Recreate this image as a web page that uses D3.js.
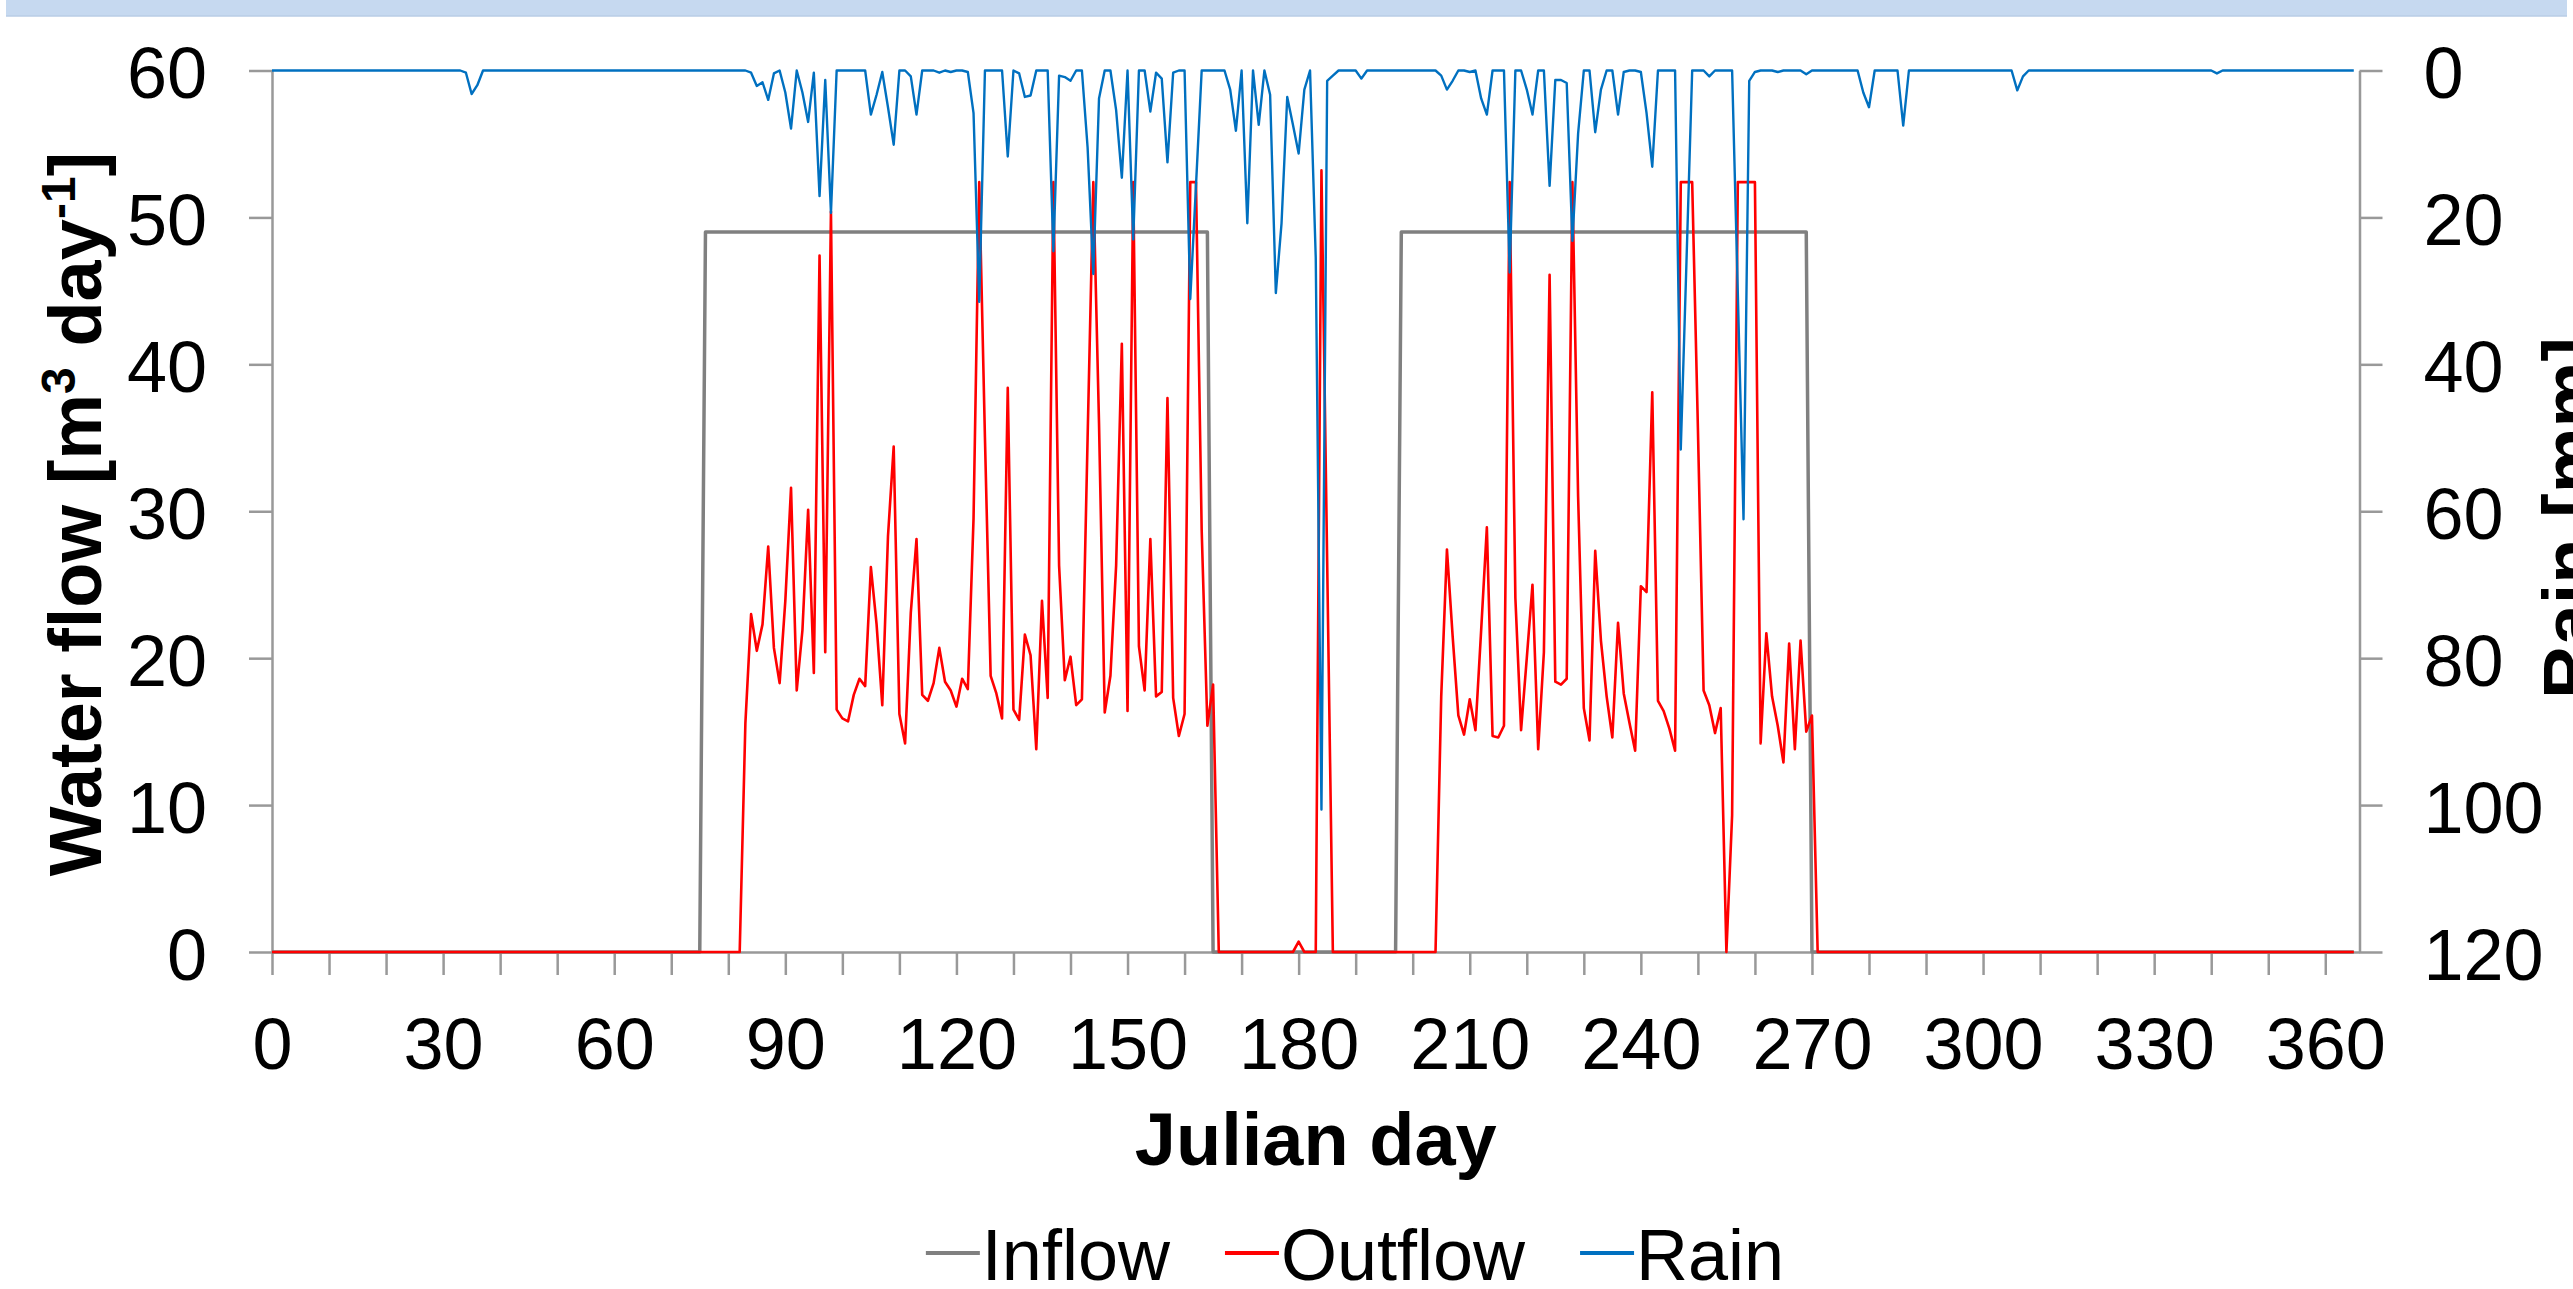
<!DOCTYPE html>
<html>
<head>
<meta charset="utf-8">
<title>Water flow and rain</title>
<script src="https://cdnjs.cloudflare.com/ajax/libs/d3/7.8.5/d3.min.js"></script>
<style>
  body { margin: 0; background: #fff; }
  svg text { font-family: "Liberation Sans", Arial, sans-serif; fill: #000; }
</style>
</head>
<body>
<div id="chart"></div>
<script>
// daily values, julian day 0..365 (index = day)
var inflow = [
  0,0,0,0,0,0,0,0,0,0,0,0,0,0,0,0,0,0,0,0,
  0,0,0,0,0,0,0,0,0,0,0,0,0,0,0,0,0,0,0,0,
  0,0,0,0,0,0,0,0,0,0,0,0,0,0,0,0,0,0,0,0,
  0,0,0,0,0,0,0,0,0,0,0,0,0,0,0,0,49,49,49,49,
  49,49,49,49,49,49,49,49,49,49,49,49,49,49,49,49,49,49,49,49,
  49,49,49,49,49,49,49,49,49,49,49,49,49,49,49,49,49,49,49,49,
  49,49,49,49,49,49,49,49,49,49,49,49,49,49,49,49,49,49,49,49,
  49,49,49,49,49,49,49,49,49,49,49,49,49,49,49,49,49,49,49,49,
  49,49,49,49,49,0,0,0,0,0,0,0,0,0,0,0,0,0,0,0,
  0,0,0,0,0,0,0,0,0,0,0,0,0,0,0,0,0,0,49,49,
  49,49,49,49,49,49,49,49,49,49,49,49,49,49,49,49,49,49,49,49,
  49,49,49,49,49,49,49,49,49,49,49,49,49,49,49,49,49,49,49,49,
  49,49,49,49,49,49,49,49,49,49,49,49,49,49,49,49,49,49,49,49,
  49,49,49,49,49,49,49,49,49,49,0,0,0,0,0,0,0,0,0,0,
  0,0,0,0,0,0,0,0,0,0,0,0,0,0,0,0,0,0,0,0,
  0,0,0,0,0,0,0,0,0,0,0,0,0,0,0,0,0,0,0,0,
  0,0,0,0,0,0,0,0,0,0,0,0,0,0,0,0,0,0,0,0,
  0,0,0,0,0,0,0,0,0,0,0,0,0,0,0,0,0,0,0,0,
  0,0,0,0,0,0
];

var outflow = [
  0,0,0,0,0,0,0,0,0,0,0,0,0,0,0,0,0,0,0,0,
  0,0,0,0,0,0,0,0,0,0,0,0,0,0,0,0,0,0,0,0,
  0,0,0,0,0,0,0,0,0,0,0,0,0,0,0,0,0,0,0,0,
  0,0,0,0,0,0,0,0,0,0,0,0,0,0,0,0,0,0,0,0,
  0,0,0,15.6,23.0,20.5,22.3,27.6,20.7,18.3,23.9,31.6,17.8,21.9,30.1,19.0,47.4,20.4,50.4,16.5,
  15.9,15.7,17.5,18.6,18.1,26.2,22.3,16.8,28.3,34.4,16.2,14.2,23.1,28.1,17.5,17.1,18.3,20.7,18.4,17.8,
  16.7,18.6,17.9,29.5,52.4,35.0,18.8,17.6,15.9,38.4,16.5,15.8,21.6,20.2,13.8,23.9,17.3,52.4,26.3,18.5,
  20.1,16.8,17.2,35.0,52.4,36.0,16.3,18.8,26.3,41.4,16.4,52.4,20.8,17.8,28.1,17.4,17.7,37.7,17.3,14.7,
  16.2,52.4,52.4,28.7,15.4,18.2,0,0,0,0,0,0,0,0,0,0,0,0,0,0,
  0.7,0,0,0,53.2,26.6,0,0,0,0,0,0,0,0,0,0,0,0,0,0,
  0,0,0,0,0,17.4,27.4,21.5,16.1,14.8,17.2,15.1,21.9,28.9,14.7,14.6,15.4,52.4,24.1,15.1,
  20.0,25.0,13.8,20.4,46.1,18.4,18.2,18.6,52.4,31.0,16.6,14.4,27.3,21.2,17.4,14.6,22.4,17.6,15.6,13.7,
  24.9,24.5,38.1,17.1,16.4,15.2,13.7,52.4,52.4,52.4,35.7,17.8,16.8,14.9,16.6,0,9.3,52.4,52.4,52.4,
  52.4,14.2,21.7,17.4,15.4,12.9,21.0,13.8,21.2,15.0,16.1,0,0,0,0,0,0,0,0,0,
  0,0,0,0,0,0,0,0,0,0,0,0,0,0,0,0,0,0,0,0,
  0,0,0,0,0,0,0,0,0,0,0,0,0,0,0,0,0,0,0,0,
  0,0,0,0,0,0,0,0,0,0,0,0,0,0,0,0,0,0,0,0,
  0,0,0,0,0,0,0,0,0,0,0,0,0,0,0,0,0,0,0,0,
  0,0,0,0,0,0
];

var rain = [
  0,0,0,0,0,0,0,0,0,0,0,0,0,0,0,0,0,0,0,0,
  0,0,0,0,0,0,0,0,0,0,0,0,0,0,0.3,3.2,2.0,0,0,0,
  0,0,0,0,0,0,0,0,0,0,0,0,0,0,0,0,0,0,0,0,
  0,0,0,0,0,0,0,0,0,0,0,0,0,0,0,0,0,0,0,0,
  0,0,0,0,0.3,2.1,1.6,4.0,0.4,0,3.0,7.9,0,3.0,7.0,0.3,17.1,1.3,19.4,0,
  0,0,0,0,0,6.0,3.3,0.2,5.0,10.1,0,0,0.8,6.0,0,0,0,0.3,0,0.2,
  0,0,0.2,5.8,31.5,0,0,0,0,11.7,0,0.4,3.6,3.4,0,0,0,24.6,0.7,0.9,
  1.4,0,0,10.5,27.7,3.8,0,0,5.4,14.6,0,23.0,0,0,5.6,0.3,1.1,12.5,0.3,0,
  0,31.1,15.7,0,0,0,0,0,2.6,8.2,0,20.8,0,7.4,0,3.3,30.3,20.8,3.6,7.4,
  11.3,2.6,0,25.5,100.6,1.4,0.7,0,0,0,0,1.1,0,0,0,0,0,0,0,0,
  0,0,0,0,0,0.7,2.6,1.4,0,0,0.2,0,3.8,6.0,0,0,0,27.5,0,0,
  2.6,6.0,0,0,15.7,1.3,1.3,1.7,23.2,8.6,0,0,8.4,2.6,0,0,6.0,0.2,0,0,
  0.2,5.8,13.1,0,0,0,0,51.6,26.0,0,0,0,0.8,0,0,0,0,30.3,61.1,1.4,
  0.2,0,0,0,0.2,0,0,0,0,0.5,0,0,0,0,0,0,0,0,0,3.0,
  5.0,0,0,0,0,0,7.5,0,0,0,0,0,0,0,0,0,0,0,0,0,
  0,0,0,0,0,0,2.7,0.8,0,0,0,0,0,0,0,0,0,0,0,0,
  0,0,0,0,0,0,0,0,0,0,0,0,0,0,0,0,0,0,0,0,
  0,0.4,0,0,0,0,0,0,0,0,0,0,0,0,0,0,0,0,0,0,
  0,0,0,0,0,0
];

var dayTicks = [0,10,20,30,40,50,60,70,80,90,100,110,120,130,140,150,160,170,180,
  190,200,210,220,230,240,250,260,270,280,290,300,310,320,330,340,350,360];
var dayLabels = [0,30,60,90,120,150,180,210,240,270,300,330,360];
var flowTicks = [0,10,20,30,40,50,60];
var rainTicks = [0,20,40,60,80,100,120];

var seriesNames = ["Inflow", "Outflow", "Rain"];
var seriesColors = ["#808080", "#ff0000", "#0070c0"];

var W = 2573, H = 1289;
var plotLeft = 272, plotRight = 2359.5, plotTop = 70.5, plotBottom = 952;
var fontSize = 72;
var titleSize = 74;
var axisColor = "#999999";

var svg = d3.select("#chart").append("svg")
    .attr("width", W)
    .attr("height", H);

// light band at the top (edge of a title box above)
svg.append("rect")
    .attr("x", 6).attr("y", 0)
    .attr("width", W - 12).attr("height", 16)
    .attr("fill", "#c6d9f0");
svg.append("line")
    .attr("x1", 6).attr("x2", W - 6)
    .attr("y1", 16).attr("y2", 16)
    .attr("stroke", "#b9cde6").attr("stroke-width", 1.5);

var x = d3.scaleLinear().domain([0, 366]).range([plotLeft, plotRight]);
var yFlow = d3.scaleLinear().domain([0, 60]).range([plotBottom, plotTop]);
var yRain = d3.scaleLinear().domain([0, 120]).range([plotTop, plotBottom]);

function styleAxis(g) {
  g.attr("font-family", null).attr("font-size", null);
  g.selectAll("path.domain").attr("stroke", axisColor).attr("stroke-width", 2.5);
  g.selectAll(".tick line").attr("stroke", axisColor).attr("stroke-width", 2.5);
  g.selectAll(".tick text").style("font-size", fontSize + "px").attr("fill", "#000");
}

// x axis
svg.append("g")
    .attr("transform", "translate(0," + plotBottom + ")")
    .call(d3.axisBottom(x)
      .tickValues(dayTicks)
      .tickSize(23)
      .tickSizeOuter(0)
      .tickPadding(43)
      .tickFormat(function(d) { return dayLabels.indexOf(d) >= 0 ? d : ""; }))
    .call(styleAxis);

// left axis
svg.append("g")
    .attr("transform", "translate(" + plotLeft + ",0)")
    .call(d3.axisLeft(yFlow)
      .tickValues(flowTicks)
      .tickSize(23)
      .tickSizeOuter(0)
      .tickPadding(42))
    .call(styleAxis)
    .selectAll(".tick text").attr("dy", "0.38em");

// right axis (rain, reversed)
svg.append("g")
    .attr("transform", "translate(" + plotRight + ",0)")
    .call(d3.axisRight(yRain)
      .tickValues(rainTicks)
      .tickSize(23)
      .tickSizeOuter(0)
      .tickPadding(41))
    .call(styleAxis)
    .selectAll(".tick text").attr("dy", "0.38em");

// lines
var flowLine = d3.line().x(function(d, i) { return x(i); }).y(function(d) { return yFlow(d); });
var rainLine = d3.line().x(function(d, i) { return x(i); }).y(function(d) { return yRain(d); });

svg.append("path").datum(inflow)
    .attr("d", flowLine)
    .attr("fill", "none").attr("stroke", seriesColors[0])
    .attr("stroke-width", 3.5).attr("stroke-linejoin", "round");

svg.append("path").datum(outflow)
    .attr("d", flowLine)
    .attr("fill", "none").attr("stroke", seriesColors[1])
    .attr("stroke-width", 2.6).attr("stroke-linejoin", "round");

svg.append("path").datum(rain)
    .attr("d", rainLine)
    .attr("fill", "none").attr("stroke", seriesColors[2])
    .attr("stroke-width", 2.4).attr("stroke-linejoin", "round");

// axis titles
var yTitle = svg.append("text")
    .attr("transform", "translate(101,514) rotate(-90)")
    .attr("text-anchor", "middle")
    .style("font-size", titleSize + "px")
    .style("font-weight", "bold");
yTitle.append("tspan").text("Water flow [m");
yTitle.append("tspan").attr("baseline-shift", "super").style("font-size", "48px").text("3");
yTitle.append("tspan").text(" day");
yTitle.append("tspan").attr("baseline-shift", "super").style("font-size", "48px").text("-1");
yTitle.append("tspan").text("]");

svg.append("text")
    .attr("transform", "translate(2595,518) rotate(-90)")
    .attr("text-anchor", "middle")
    .style("font-size", titleSize + "px")
    .style("font-weight", "bold")
    .text("Rain [mm]");

svg.append("text")
    .attr("x", (plotLeft + plotRight) / 2)
    .attr("y", 1165)
    .attr("text-anchor", "middle")
    .style("font-size", titleSize + "px")
    .style("font-weight", "bold")
    .text("Julian day");

// legend
var legend = svg.append("g");
var lx = 0;
seriesNames.forEach(function(name, i) {
  var item = legend.append("g").attr("transform", "translate(" + lx + ",0)");
  item.append("line")
      .attr("x1", 0).attr("x2", 54)
      .attr("y1", -27).attr("y2", -27)
      .attr("stroke", seriesColors[i]).attr("stroke-width", 4);
  var t = item.append("text")
      .attr("x", 56).attr("y", 0)
      .style("font-size", fontSize + "px")
      .text(name);
  lx += 56 + t.node().getComputedTextLength() + 55;
});
var legendWidth = lx - 55;
legend.attr("transform", "translate(" + (1355 - legendWidth / 2) + ",1280)");
</script>
</body>
</html>
